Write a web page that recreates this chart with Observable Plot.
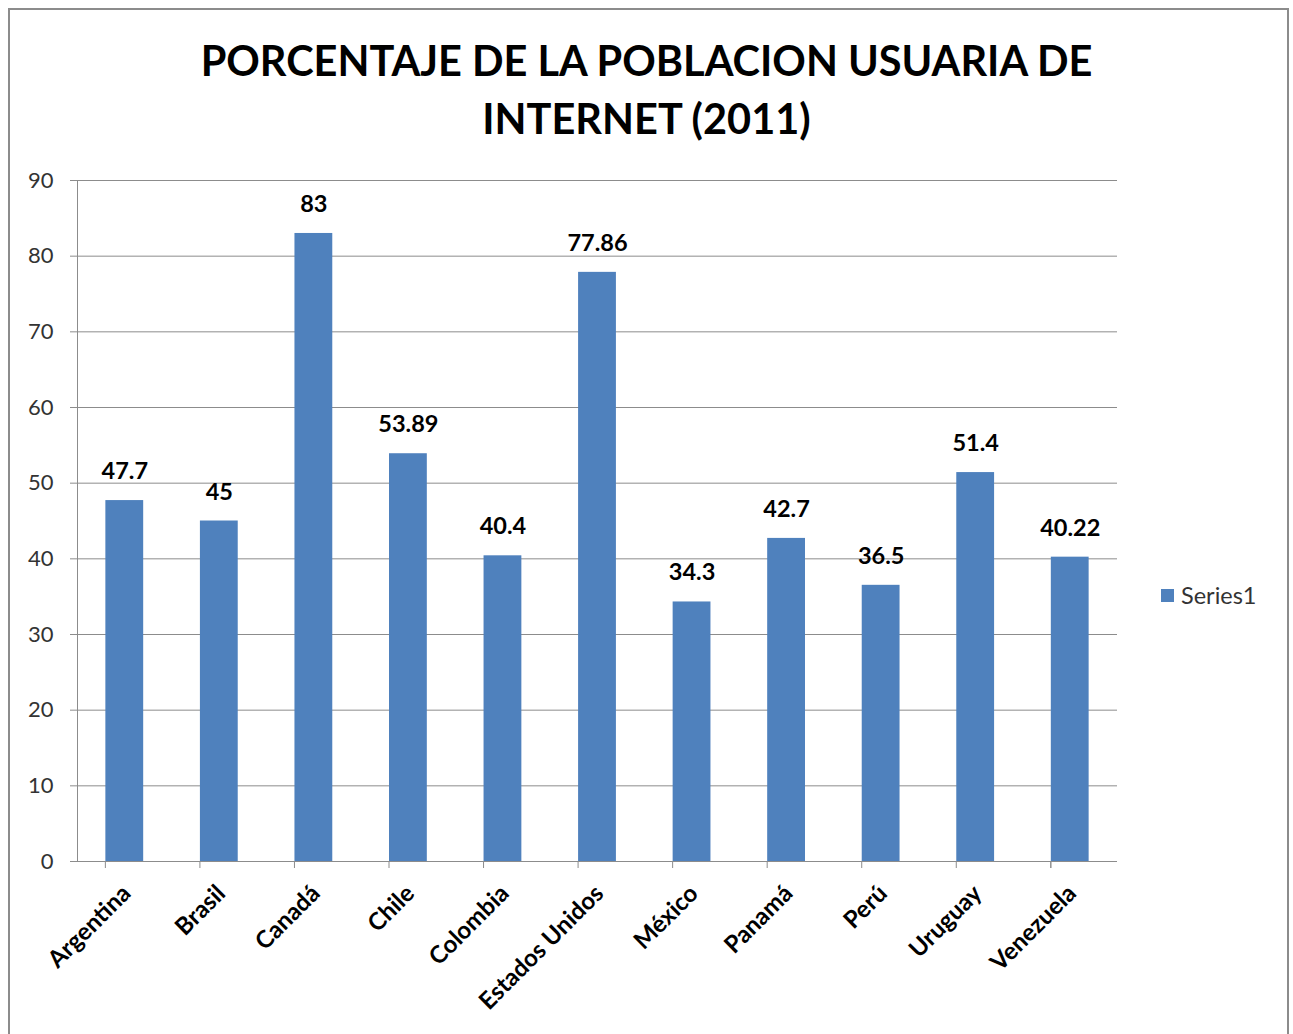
<!DOCTYPE html>
<html>
<head>
<meta charset="utf-8">
<script src="https://cdn.jsdelivr.net/npm/d3@7"></script>
<script src="https://cdn.jsdelivr.net/npm/@observablehq/plot@0.6"></script>
<style>
  html, body { margin: 0; padding: 0; background: #fff; }
  body { width: 1293px; height: 1034px; overflow: hidden; position: relative; font-family: Lato, "Open Sans", sans-serif; }
  #frame { position: absolute; left: 8px; top: 8px; width: 1281px; height: 1100px; border: 2px solid #8c8c8c; box-sizing: border-box; }
  #title { position: absolute; left: 0; top: 31px; width: 1293px; text-align: center; font-weight: 700; font-size: 41.5px; line-height: 58px; color: #000; }
  #chart { position: absolute; left: 0; top: 0; }
  #legend { position: absolute; left: 1161px; top: 581px; font-size: 23.5px; color: #333; display: flex; align-items: center; gap: 7px; }
  #legend .sw { width: 13px; height: 13px; background: #4F81BD; display: inline-block; }
</style>
</head>
<body>
<div id="frame"></div>
<div id="title">PORCENTAJE DE LA POBLACION USUARIA DE<br>INTERNET (2011)</div>
<div id="chart"></div>
<div id="legend"><span class="sw"></span><span id="legtext"></span></div>
<script>
const countries = ["Argentina", "Brasil", "Canadá", "Chile", "Colombia", "Estados Unidos", "México", "Panamá", "Perú", "Uruguay", "Venezuela"];
const values = [47.7, 45, 83, 53.89, 40.4, 77.86, 34.3, 42.7, 36.5, 51.4, 40.22];
const yTicks = [0, 10, 20, 30, 40, 50, 60, 70, 80, 90];
const seriesName = "Series1";

const data = countries.map((c, i) => ({country: c, value: values[i]}));

const W = 1293, H = 1034;
const mL = 77, mR = 176, mT = 180, mB = 173;
const step = (W - mL - mR) / countries.length;
const boundaries = countries.map((c, i) => ({country: c, dx: -step / 2}))
  .concat([{country: countries[countries.length - 1], dx: step / 2}]);

const chart = Plot.plot({
  width: W,
  height: H,
  marginLeft: mL,
  marginRight: mR,
  marginTop: mT,
  marginBottom: mB,
  style: {fontFamily: "Lato, 'Open Sans', sans-serif", background: "transparent", overflow: "visible"},
  x: {domain: countries, paddingInner: 0.6, paddingOuter: 0.3, round: false, label: null},
  y: {domain: [0, 90], label: null},
  marks: [
    Plot.ruleY(yTicks, {stroke: "#8c8c8c", strokeWidth: 1, strokeOpacity: 1, insetLeft: -7}),
    Plot.ruleX([0], {x: () => countries[0], dx: -step / 2, y1: 0, y2: 90, stroke: "#8c8c8c", strokeOpacity: 1}),
    Plot.ruleX(boundaries, {x: "country", dx: d => d.dx, y1: 0, y2: 0, insetBottom: -7, stroke: "#8c8c8c", strokeOpacity: 1}),
    Plot.barY(data, {x: "country", y: "value", fill: "#4F81BD"}),
    Plot.text(data, {x: "country", y: "value", text: d => String(d.value), dy: -29, fontSize: 23.5, fontWeight: 700, fill: "#000"}),
    Plot.axisY({ticks: yTicks, tickSize: 0, tickPadding: 24, fontSize: 22, fill: "#333", label: null}),
    Plot.axisX({tickSize: 0, tickRotate: -45, tickPadding: 28, fontSize: 24, fontWeight: 700, fill: "#000", label: null, dx: 2})
  ]
});
document.getElementById("chart").appendChild(chart);
document.getElementById("legtext").textContent = seriesName;
</script>
</body>
</html>
